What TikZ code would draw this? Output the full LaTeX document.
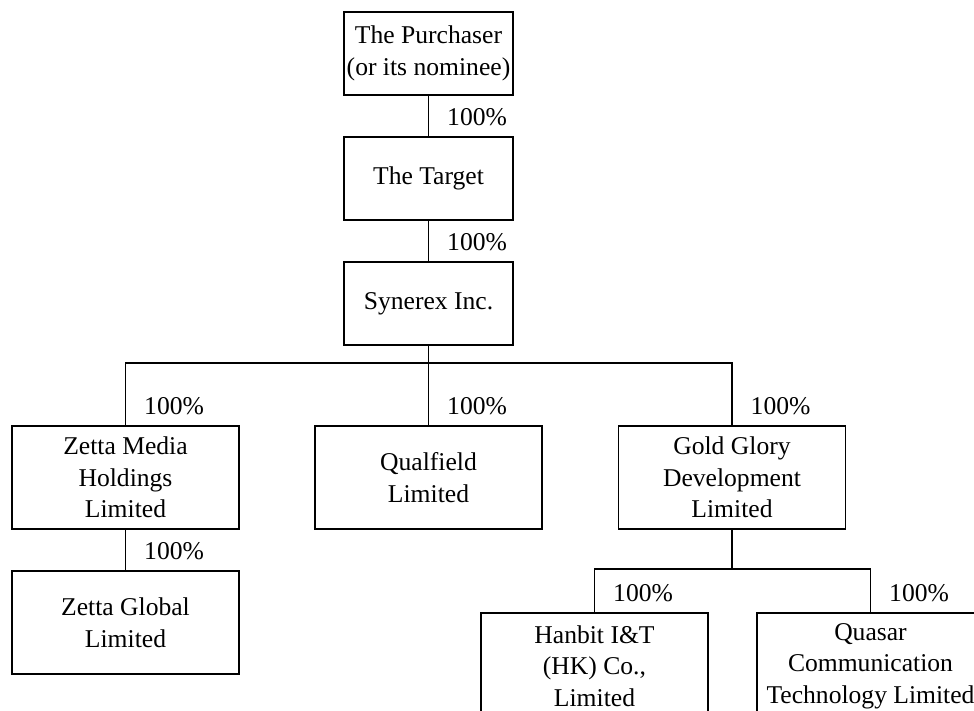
\documentclass[tikz,border=0pt]{standalone}
\usepackage{fontspec}
\setmainfont{Liberation Serif}
\usetikzlibrary{positioning}

\begin{document}
\begin{tikzpicture}[x=0.5pt,y=-0.5pt,line width=0.7pt,
  font=\fontsize{12.8}{15.8}\selectfont,
  sbox/.style={draw,align=center,minimum width=84.5pt,minimum height=41.5pt,inner sep=0pt},
  bbox/.style={draw,align=center,minimum width=113.5pt,minimum height=51.5pt,inner sep=0pt},
  pct/.style={anchor=west,inner sep=0pt}]
\useasboundingbox (0,0) rectangle (974,711);
\clip (0,0) rectangle (974,711);
% top of the chain
\node[sbox] (pur) at (428.5,53.5) {The Purchaser\\(or its nominee)};
\node[sbox] (tgt) at (428.5,178.5) {The Target};
\node[sbox] (syn) at (428.5,303.5) {Synerex Inc.};
% subsidiaries
\node[bbox] (zmh) at (125.5,477.5) {Zetta Media\\Holdings\\Limited};
\node[bbox] (qfl) at (428.5,477.5) {Qualfield\\Limited};
\node[bbox] (ggd) at (732,477.5) {Gold Glory\\Development\\Limited};
\node[bbox] (zgl) at (125.5,622.5) {Zetta Global\\Limited};
\node[bbox,minimum height=53pt] (hbt) at (594.5,666) {Hanbit I\&T\\(HK) Co.,\\Limited};
\node[bbox,minimum height=53pt] (qct) at (870.5,666) {Quasar\\Communication\\Technology Limited};
\coordinate (bar) at (428.5,363);
\coordinate (bart) at (732,569);
\draw (pur)--(tgt) (tgt)--(syn) (syn)--(qfl) (zmh)--(zgl) (ggd.south)--(bart);
\draw (zmh.north)|-(bar)-|(ggd.north);
\draw (hbt.north)|-(bart)-|(qct.north);
\foreach \n in {tgt,syn,zmh,qfl,ggd,zgl,hbt,qct}
  \node[pct] (pc-\n) at ([xshift=9pt,yshift=9.5pt]\n.north) {100\%};
\end{tikzpicture}
\end{document}
